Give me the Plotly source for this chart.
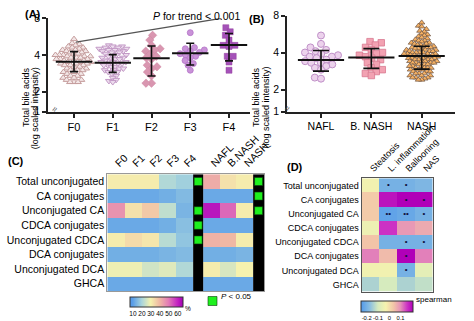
import math
import plotly.graph_objects as go

W, H = 474, 321
def px(x): return x / W
def py(y): return 1 - y / H

# ---------------- data ----------------
groups_A = ["F0", "F1", "F2", "F3", "F4"]
f0_vals = [5.4, 5.0, 4.9, 4.8, 4.7, 4.6, 4.6, 4.5, 4.4, 4.4, 4.3, 4.3, 4.2, 4.2, 4.1, 4.1, 4.0, 4.0, 4.0,
           3.9, 3.9, 3.9, 3.8, 3.8, 3.8, 3.7, 3.7, 3.7, 3.6, 3.6, 3.6, 3.5, 3.5, 3.5, 3.4, 3.4, 3.4,
           3.3, 3.3, 3.3, 3.2, 3.2, 3.1, 3.1, 3.0, 3.0, 3.0, 2.9, 2.9, 2.8, 2.8, 2.7, 2.7, 2.6, 2.6,
           2.5, 2.5, 2.4, 2.4, 2.4]
f1_vals = [4.8, 4.7, 4.7, 4.6, 4.6, 4.5, 4.5, 4.4, 4.4, 4.3, 4.3, 4.2, 4.2, 4.1, 4.0, 4.0, 3.9, 3.9,
           3.8, 3.8, 3.7, 3.7, 3.6, 3.6, 3.5, 3.5, 3.5, 3.4, 3.4, 3.3, 3.3, 3.2, 3.2, 3.1, 3.1, 3.0,
           3.0, 2.9, 2.9, 2.8, 2.7, 2.6, 2.5, 2.45, 2.4]
f2_vals = [5.8, 5.3, 4.8, 4.5, 4.4, 4.3, 4.1, 3.9, 3.8, 3.7, 3.3, 3.2, 3.1, 2.9, 2.7, 2.35, 2.35]
f3_vals = [6.1, 4.6, 4.5, 4.4, 4.3, 4.2, 4.1, 4.0, 3.9, 3.8, 3.6, 3.4, 3.3, 3.0]
f4_vals = [6.7, 6.2, 5.8, 5.3, 4.8, 4.8, 4.7, 3.9, 3.9, 3.5, 3.0]
means_A = [3.52, 3.45, 3.76, 4.13, 4.83]
upper_A = [4.26, 4.03, 4.74, 4.99, 6.0]
lower_A = [2.92, 2.88, 2.69, 3.31, 3.58]
trend_x = [0.05, 3.8]
trend_y = [5.1, 8.0]

groups_B = ["NAFL", "B. NASH", "NASH"]
nafl_vals = [5.5, 4.7, 4.4, 4.2, 4.1, 4.0, 3.9, 3.8, 3.7, 3.7, 3.6, 3.5, 3.4, 3.3, 3.3, 3.2, 3.1,
             3.0, 2.9, 2.5, 2.45]
bnash_vals = [4.9, 4.8, 4.6, 4.4, 4.2, 4.0, 3.9, 3.8, 3.7, 3.6, 3.5, 3.3, 3.2, 3.0, 2.9, 2.8, 2.7, 2.6]
nash_vals = [7.0, 6.6, 6.5, 6.2, 6.0, 5.9, 5.7, 5.6, 5.5, 5.4, 5.3, 5.2, 5.1, 5.0, 5.0, 4.9, 4.8, 4.8,
             4.7, 4.7, 4.6, 4.6, 4.5, 4.5, 4.4, 4.4, 4.4, 4.3, 4.3, 4.3, 4.2, 4.2, 4.2, 4.1, 4.1, 4.1,
             4.0, 4.0, 4.0, 4.0, 3.9, 3.9, 3.9, 3.9, 3.8, 3.8, 3.8, 3.8, 3.7, 3.7, 3.7, 3.7, 3.6, 3.6,
             3.6, 3.6, 3.5, 3.5, 3.5, 3.5, 3.4, 3.4, 3.4, 3.4, 3.3, 3.3, 3.3, 3.3, 3.2, 3.2, 3.2, 3.1,
             3.1, 3.1, 3.0, 3.0, 3.0, 3.0, 2.9, 2.9, 2.9, 2.8, 2.8, 2.8, 2.7, 2.7, 2.7, 2.6, 2.6, 2.6,
             2.5, 2.5, 2.5, 2.45, 2.4, 2.4]
means_B = [3.48, 3.65, 3.75]
upper_B = [4.15, 4.3, 4.5]
lower_B = [2.82, 2.97, 2.93]

row_labels = ["Total unconjugated", "CA conjugates", "Unconjugated CA", "CDCA conjugates",
              "Unconjugated CDCA", "DCA conjugates", "Unconjugated DCA", "GHCA"]
fib_cols = ["F0", "F1", "F2", "F3", "F4"]
dx_cols = ["NAFL", "B.NASH", "NASH"]
zC_fib = [[31, 31, 31, 21, 19],
          [12, 12, 12, 13, 15],
          [46, 33, 37, 23, 14],
          [12, 12, 12, 13, 16],
          [31, 34, 32, 22, 17],
          [13, 13, 13, 14, 15],
          [29, 29, 25, 27, 21],
          [12, 12, 12, 12, 12]]
zC_dx = [[42, 33, 31],
         [12, 12, 12],
         [62, 52, 31],
         [12, 12, 12],
         [41, 40, 31],
         [13, 13, 14],
         [31, 26, 30],
         [12, 12, 12]]
sig_trend_rows = [0, 2, 3, 4]
sig_nash_rows = [0, 1, 2]

d_cols = ["Steatosis", "L. inflammation", "Ballooning", "NAS"]
zD = [[-0.04, -0.20, -0.20, -0.19],
      [0.03, 0.19, 0.21, 0.21],
      [0.03, -0.23, -0.22, -0.20],
      [-0.05, 0.16, 0.09, 0.07],
      [0.04, -0.20, -0.20, -0.20],
      [0.11, 0.05, 0.21, 0.11],
      [-0.04, -0.04, -0.20, -0.07],
      [-0.14, -0.10, -0.14, -0.12]]
sigD = [["", "*", "*", ""],
        ["", "", "*", "*"],
        ["", "**", "**", "*"],
        ["", "", "", ""],
        ["", "", "*", "*"],
        ["", "", "*", ""],
        ["", "", "*", ""],
        ["", "", "", ""]]

# ---------------- helpers ----------------
def swarm(values, center, ppu, opx, diam):
    ys = [math.log2(v) * opx for v in values]
    order = sorted(range(len(values)), key=lambda i: ys[i])
    placed = []
    xs = [0.0] * len(values)
    for i in order:
        y = ys[i]
        cands = [0.0]
        for (qx, qy) in placed:
            dy = abs(qy - y)
            if dy < diam:
                d = math.sqrt(diam ** 2 - dy ** 2)
                cands += [qx + d, qx - d]
        cands.sort(key=lambda c: (abs(c), c))
        chosen = 0.0
        for c in cands:
            if all((c - qx) ** 2 + (y - qy) ** 2 >= diam ** 2 - 1e-6 for qx, qy in placed):
                chosen = c
                break
        placed.append((chosen, y))
        xs[i] = chosen
    return [center + x / ppu for x in xs]

FONT = "Liberation Sans, Arial, sans-serif"
fig = go.Figure()

# ---------------- panel A ----------------
A_left, A_right, A_f0, A_f4 = 48, 250, 74, 229
A_ppu = (A_f4 - A_f0) / 4
A_opx = 36.7
styleA = [
    dict(symbol="triangle-up", size=6, color="#f3e6e6", line=dict(color="#c59d9d", width=1)),
    dict(symbol="triangle-down", size=6, color="#eddcee", line=dict(color="#c39ac6", width=1)),
    dict(symbol="diamond", size=6.5, color="#d996b0", line=dict(color="#cf86a3", width=0.5)),
    dict(symbol="circle", size=6, color="#c992d8", line=dict(color="#b474c8", width=0.8)),
    dict(symbol="square", size=6, color="#a552b9", line=dict(color="#94409f", width=0.5)),
]
diamA = [4.0, 4.0, 5.5, 5.5, 6.0]
for gi, vals in enumerate([f0_vals, f1_vals, f2_vals, f3_vals, f4_vals]):
    fig.add_trace(go.Scatter(x=swarm(vals, gi, A_ppu, A_opx, diamA[gi]), y=vals, mode="markers",
                             marker=styleA[gi], xaxis="x", yaxis="y", hoverinfo="skip"))
fig.add_trace(go.Scatter(
    x=list(range(len(groups_A))), y=means_A, mode="markers", xaxis="x", yaxis="y",
    marker=dict(symbol="line-ew", size=26, line=dict(color="#111", width=2)),
    error_y=dict(type="data", symmetric=False,
                 array=[u - m for u, m in zip(upper_A, means_A)],
                 arrayminus=[m - l for m, l in zip(means_A, lower_A)],
                 color="#111", thickness=1.6, width=4)))
fig.add_trace(go.Scatter(x=trend_x, y=trend_y, mode="lines", xaxis="x", yaxis="y",
                         line=dict(color="#555", width=1.2), hoverinfo="skip"))

# ---------------- panel B ----------------
B_left, B_right, B_c0, B_c2 = 287, 455, 321, 421.7
B_ppu = (B_c2 - B_c0) / 2
B_opx = 37.0
styleB = [
    dict(symbol="circle", size=7, color="#ecd2ec", line=dict(color="#c090c8", width=1)),
    dict(symbol="square", size=6.5, color="#f2a2b2", line=dict(color="#d87890", width=0.8)),
    dict(symbol="triangle-up", size=5.5, color="#f4b063", line=dict(color="#6a5040", width=0.7)),
]
diamB = [6.3, 6.3, 3.3]
for gi, vals in enumerate([nafl_vals, bnash_vals, nash_vals]):
    fig.add_trace(go.Scatter(x=swarm(vals, gi, B_ppu, B_opx, diamB[gi]), y=vals, mode="markers",
                             marker=styleB[gi], xaxis="x2", yaxis="y2", hoverinfo="skip"))
fig.add_trace(go.Scatter(
    x=list(range(len(groups_B))), y=means_B, mode="markers", xaxis="x2", yaxis="y2",
    marker=dict(symbol="line-ew", size=33, line=dict(color="#111", width=2)),
    error_y=dict(type="data", symmetric=False,
                 array=[u - m for u, m in zip(upper_B, means_B)],
                 arrayminus=[m - l for m, l in zip(means_B, lower_B)],
                 color="#111", thickness=1.6, width=8)))

# ---------------- panel C ----------------
c_unit = 17.2
blk_w = 10 / c_unit
dx_w = 16.7 / c_unit
fib_edges = [float(i) for i in range(len(fib_cols) + 1)]
blk1 = [fib_edges[-1], fib_edges[-1] + blk_w]
dx_edges = [blk1[1] + i * dx_w for i in range(len(dx_cols) + 1)]
blk2 = [dx_edges[-1], dx_edges[-1] + blk_w + 0.05]
C_zmin, C_zmax = 7, 66
def nC(v): return (v - C_zmin) / (C_zmax - C_zmin)
cscaleC = [[0, "#5299ea"], [nC(10), "#5a9ee8"], [nC(20), "#a9d5dc"], [nC(30), "#f6f2ae"],
           [nC(40), "#f0b8a4"], [nC(50), "#e27ab6"], [nC(60), "#c322c2"], [1, "#a200b2"]]
rows_idx = list(range(len(row_labels)))
fig.add_trace(go.Heatmap(z=zC_fib, x=fib_edges, y=rows_idx, xaxis="x3", yaxis="y3",
                         colorscale=cscaleC, zmin=C_zmin, zmax=C_zmax, hoverinfo="skip",
                         colorbar=dict(orientation="h", x=px(156.7), xanchor="center",
                                       y=py(296.7), yanchor="top", len=53.3 / W, lenmode="fraction",
                                       thickness=10, xpad=0, ypad=0, outlinewidth=1,
                                       outlinecolor="#333", tickvals=[10, 20, 30, 40, 50, 60],
                                       tickangle=0, tickfont=dict(size=6.5, family=FONT), ticks="")))
fig.add_trace(go.Heatmap(z=zC_dx, x=dx_edges, y=rows_idx, xaxis="x3", yaxis="y3",
                         colorscale=cscaleC, zmin=C_zmin, zmax=C_zmax, showscale=False,
                         hoverinfo="skip"))
for be in (blk1, blk2):
    fig.add_trace(go.Heatmap(z=[[0]] * len(row_labels), x=be, y=rows_idx, xaxis="x3", yaxis="y3",
                             colorscale=[[0, "black"], [1, "black"]], showscale=False,
                             hoverinfo="skip"))
gx = [(blk1[0] + blk1[1]) / 2] * len(sig_trend_rows) + [(blk2[0] + blk2[1]) / 2] * len(sig_nash_rows)
gy = sig_trend_rows + sig_nash_rows
fig.add_trace(go.Scatter(x=gx, y=gy, mode="markers", xaxis="x3", yaxis="y3", hoverinfo="skip",
                         marker=dict(symbol="square", size=8, color="#1ef01e",
                                     line=dict(color="#0b3b0b", width=0.6))))
C_ticks = [(fib_edges[i] + fib_edges[i + 1]) / 2 for i in range(len(fib_cols))] + \
          [(dx_edges[i] + dx_edges[i + 1]) / 2 for i in range(len(dx_cols))]

# ---------------- panel D ----------------
D_zmin, D_zmax = -0.25, 0.21
def nD(v): return (v - D_zmin) / (D_zmax - D_zmin)
cscaleD = [[0, "#5299ea"], [nD(-0.17), "#8cc0e0"], [nD(-0.1), "#d6ebbe"], [nD(-0.03), "#f6f2ae"],
           [nD(0.04), "#f2c4a8"], [nD(0.1), "#e690b8"], [nD(0.16), "#cc32c4"], [1, "#b000b8"]]
fig.add_trace(go.Heatmap(z=zD, x=list(range(len(d_cols))), y=rows_idx, xaxis="x4", yaxis="y4",
                         colorscale=cscaleD, zmin=D_zmin, zmax=D_zmax, hoverinfo="skip",
                         colorbar=dict(orientation="h", x=px(387), xanchor="center",
                                       y=py(300.7), yanchor="top", len=52 / W, lenmode="fraction",
                                       thickness=11, xpad=0, ypad=0, outlinewidth=1,
                                       outlinecolor="#333", tickvals=[-0.2, -0.1, 0, 0.1],
                                       ticktext=["-0.2", "-0.1", "0", "0.1"],
                                       tickangle=0, tickfont=dict(size=5.8, family=FONT), ticks="")))
sx, sy, st = [], [], []
for r, row in enumerate(sigD):
    for c, s in enumerate(row):
        if s:
            sx.append(c); sy.append(r); st.append("\u2022" * len(s))
fig.add_trace(go.Scatter(x=sx, y=sy, text=st, mode="text", xaxis="x4", yaxis="y4",
                         textfont=dict(size=8, color="#101040", family=FONT), hoverinfo="skip"))

# ---------------- layout ----------------
axis_common = dict(showline=True, linecolor="#222", linewidth=1.6, ticks="outside", ticklen=4,
                   tickwidth=1.5, tickcolor="#222", showgrid=False, zeroline=False)
A_lo = 2 / 2 ** ((111.7 - 91.7) / A_opx)
B_lo = 2 / 2 ** ((111.7 - 89.5) / B_opx)
fig.update_layout(
    width=W, height=H, margin=dict(l=0, r=0, t=0, b=0, autoexpand=False),
    paper_bgcolor="white", plot_bgcolor="white", showlegend=False,
    font=dict(family=FONT, color="black"),
    xaxis=dict(domain=[px(A_left), px(A_right)],
               range=[-(A_f0 - A_left) / A_ppu, 4 + (A_right - A_f4) / A_ppu],
               tickvals=list(range(5)), ticktext=groups_A, tickfont=dict(size=11), anchor="y",
               **axis_common),
    yaxis=dict(domain=[py(111.7), py(18.3)], type="log",
               range=[math.log10(A_lo), math.log10(8)], tickvals=[A_lo, 2, 4, 8],
               ticktext=["1", "2", "4", "8"], tickfont=dict(size=10.5), anchor="x", **axis_common),
    xaxis2=dict(domain=[px(B_left), px(B_right)],
                range=[-(B_c0 - B_left) / B_ppu, 2 + (B_right - B_c2) / B_ppu],
                tickvals=list(range(3)), ticktext=groups_B, tickfont=dict(size=10.5), anchor="y2",
                **axis_common),
    yaxis2=dict(domain=[py(111.7), py(15.5)], type="log",
                range=[math.log10(B_lo), math.log10(8)], tickvals=[B_lo, 2, 4, 8],
                ticktext=["1", "2", "4", "8"], tickfont=dict(size=10.5), anchor="x2", **axis_common),
    xaxis3=dict(domain=[px(107.3), px(264)], range=[0, blk2[1]], side="top", tickvals=C_ticks,
                ticktext=fib_cols + dx_cols, tickangle=-45, tickfont=dict(size=10.5), ticks="",
                showline=True, mirror=True, linecolor="#999", linewidth=1, showgrid=False,
                zeroline=False, anchor="y3"),
    yaxis3=dict(domain=[py(291), py(174.2)], range=[7.5, -0.5], tickvals=rows_idx,
                ticktext=row_labels, tickfont=dict(size=10.5), ticks="", showline=True,
                mirror=True, linecolor="#999", linewidth=1, showgrid=False, zeroline=False,
                anchor="x3"),
    xaxis4=dict(domain=[px(361.7), px(432.7)], range=[-0.5, 3.5], side="top",
                tickvals=list(range(4)), ticktext=d_cols, tickangle=-45, tickfont=dict(size=9),
                ticks="", showline=True, mirror=True, linecolor="#555", linewidth=1.2,
                showgrid=False, zeroline=False, anchor="y4"),
    yaxis4=dict(domain=[py(291.7), py(178.3)], range=[7.5, -0.5], tickvals=rows_idx,
                ticktext=row_labels, tickfont=dict(size=9), ticks="", showline=True, mirror=True,
                linecolor="#555", linewidth=1.2, showgrid=False, zeroline=False, anchor="x4"),
)

def ann(x, y, text, size, **kw):
    d = dict(x=px(x), y=py(y), xref="paper", yref="paper", text=text, showarrow=False,
             borderpad=0, font=dict(size=size, family=FONT, color=kw.pop("color", "black")))
    d.update(kw)
    fig.add_annotation(**d)

ann(24, 7, "<b>(A)</b>", 11)
ann(152, 9, "<i>P</i> for trend < 0.001", 10.5)
ann(20, 66, "Total bile acids", 9, textangle=-90)
ann(29.2, 66, "(log scaled intensity)", 9, textangle=-90)
ann(257, 12, "<b>(B)</b>", 11)
ann(256, 66, "Total bile acids", 9, textangle=-90)
ann(265.5, 66, "(log scaled intensity)", 9, textangle=-90)
ann(7, 161, "<b>(C)</b>", 11)
ann(295, 167, "<b>(D)</b>", 11)
ann(188, 312.5, "%", 6.5)
ann(220, 301.5, "<i>P</i> < 0.05", 8, xanchor="left")
ann(415, 305, "spearman", 8, xanchor="left")
ann(48, 103, "\u2248", 9, textangle=-60, color="#555")
ann(287, 103, "\u2248", 9, textangle=-60, color="#555")
fig.add_shape(type="rect", xref="paper", yref="paper", x0=px(208), x1=px(217), y0=py(305.5),
              y1=py(296.5), fillcolor="#1ef01e", line=dict(color="#0b3b0b", width=0.6))

fig.write_html("out.html")
